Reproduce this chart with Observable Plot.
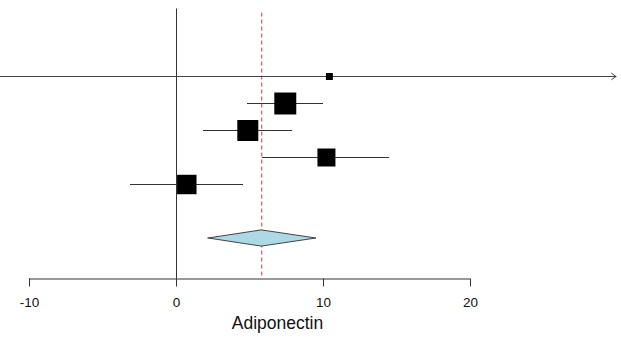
<!DOCTYPE html>
<html>
<head>
<meta charset="utf-8">
<script src="https://cdn.jsdelivr.net/npm/d3@7"></script>
<script src="https://cdn.jsdelivr.net/npm/@observablehq/plot@0.6"></script>
<style>
  html, body { margin: 0; padding: 0; background: #fff; }
  #chart svg { display: block; }
</style>
</head>
<body>
<div id="chart"></div>
<script>
// Study-level estimates (Adiponectin mean difference)
const studyRows = [0, 1, 2, 3, 4];
const studyEst = [10.4, 7.4, 4.85, 10.2, 0.7];
const studyLower = [-14, 4.83, 1.84, 5.85, -3.13];
const studyUpper = [35, 10.0, 7.9, 14.5, 4.56];
const studyWeight = [2.9, 28.8, 26.3, 19.3, 22.6];

// Pooled summary
const summaryRow = 6;
const summaryEst = 5.8;
const summaryLower = 2.18;
const summaryUpper = 9.52;

// Axis
const xTicks = [-10, 0, 10, 20];
const xLimits = [-12, 29.9];
const xLabel = "Adiponectin";

const studies = studyRows.map((r, i) => ({
  row: r, est: studyEst[i], lb: studyLower[i], ub: studyUpper[i], w: studyWeight[i]
}));
const inside = studies.filter(d => d.lb >= xLimits[0] && d.ub <= xLimits[1]);
const clipped = studies.filter(d => d.lb < xLimits[0] || d.ub > xLimits[1])
  .map(d => ({...d, lo: Math.max(d.lb, xLimits[0]), hi: Math.min(d.ub, xLimits[1])}));

const halfH = 0.3;
const diamond = [
  {x: summaryLower, ya: summaryRow, yb: summaryRow},
  {x: summaryEst, ya: summaryRow - halfH, yb: summaryRow + halfH},
  {x: summaryUpper, ya: summaryRow, yb: summaryRow}
];

const chart = Plot.plot({
  width: 621,
  height: 337,
  marginLeft: 29,
  marginRight: 151,
  marginTop: 8.5,
  marginBottom: 58.5,
  style: {fontFamily: "'Liberation Sans', Arial, sans-serif", background: "#fff"},
  x: {domain: [xTicks[0], xTicks[xTicks.length - 1]]},
  y: {domain: [-2.5, 7.5], reverse: true, axis: null},
  r: {domain: [0, 28.8], range: [0, 12.4]},
  marks: [
    // zero line
    Plot.ruleX([0], {y1: -2.5, y2: 7.5, stroke: "#333", strokeWidth: 1}),
    // summary dashed line
    Plot.ruleX([summaryEst], {y1: -2.35, y2: 7.5, stroke: "#d03a3a", strokeWidth: 1, strokeDasharray: "4,3"}),
    // CIs
    Plot.ruleY(inside, {y: "row", x1: "lb", x2: "ub", stroke: "#333", strokeWidth: 1}),
    Plot.arrow(clipped, {x1: "lo", x2: "hi", y1: "row", y2: "row", stroke: "#444", strokeWidth: 1, headLength: 8, headAngle: 70}),
    // squares
    Plot.dot(studies, {x: "est", y: "row", r: "w", symbol: "square", fill: "black", stroke: "none"}),
    // diamond
    Plot.area(diamond, {x1: "x", y1: "ya", y2: "yb", fill: "#add8e6", stroke: "#444", strokeWidth: 1}),
    // x axis
    Plot.ruleY([7.5], {x1: xTicks[0], x2: xTicks[xTicks.length - 1], stroke: "#333", strokeWidth: 1}),
    Plot.axisX({ticks: xTicks, tickFormat: d => String(d), tickSize: 8, tickPadding: 10, fontSize: 13.5, label: null, stroke: "#333", color: "#111"}),
    Plot.text([xLabel], {frameAnchor: "bottom-left", dx: 248, dy: 44.5, textAnchor: "middle", lineAnchor: "middle", fontSize: 17.5, fill: "#111"})
  ]
});
document.getElementById("chart").appendChild(chart);
</script>
</body>
</html>
